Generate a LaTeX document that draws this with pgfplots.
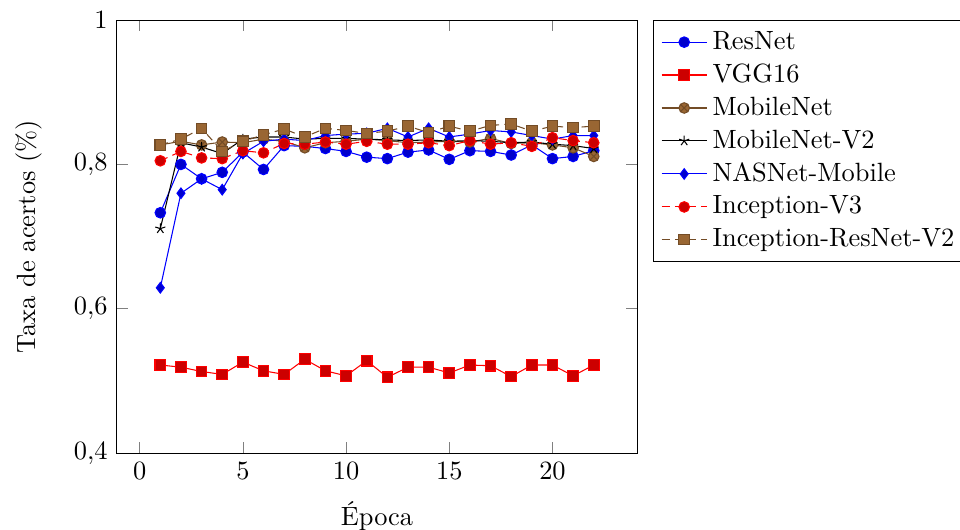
\documentclass[border=0pt]{standalone}
\usepackage{pgfplots}
\pgfplotsset{compat=1.18}
\begin{document}
\begin{tikzpicture}
\begin{axis}[
  scale only axis,
  width=197pt, height=164pt,
  xmin=-1.1, xmax=24.1,
  ymin=0.4, ymax=1,
  xtick={0,5,10,15,20},
  ytick={0.4,0.6,0.8,1},
  /pgf/number format/use comma,
  xlabel={Época},
  ylabel={Taxa de acertos (\%)},
  ylabel style={yshift=5pt},
  xlabel style={yshift=-1.5pt},
  legend pos=outer north east,
  legend cell align=left,
]
\addplot coordinates {(1,0.733)(2,0.800)(3,0.780)(4,0.789)(5,0.817)(6,0.793)(7,0.826)(8,0.825)(9,0.822)(10,0.818)(11,0.810)(12,0.808)(13,0.817)(14,0.820)(15,0.807)(16,0.819)(17,0.818)(18,0.813)(19,0.827)(20,0.808)(21,0.811)(22,0.819)};
\addlegendentry{ResNet}
\addplot coordinates {(1,0.522)(2,0.519)(3,0.513)(4,0.509)(5,0.526)(6,0.514)(7,0.509)(8,0.530)(9,0.514)(10,0.507)(11,0.528)(12,0.505)(13,0.519)(14,0.519)(15,0.511)(16,0.522)(17,0.521)(18,0.506)(19,0.522)(20,0.522)(21,0.507)(22,0.522)};
\addlegendentry{VGG16}
\addplot coordinates {(1,0.827)(2,0.832)(3,0.827)(4,0.831)(5,0.830)(6,0.835)(7,0.832)(8,0.823)(9,0.830)(10,0.832)(11,0.835)(12,0.833)(13,0.830)(14,0.831)(15,0.832)(16,0.831)(17,0.836)(18,0.829)(19,0.830)(20,0.827)(21,0.823)(22,0.811)};
\addlegendentry{MobileNet}
\addplot coordinates {(1,0.711)(2,0.830)(3,0.824)(4,0.815)(5,0.835)(6,0.838)(7,0.838)(8,0.835)(9,0.836)(10,0.836)(11,0.835)(12,0.834)(13,0.833)(14,0.834)(15,0.832)(16,0.833)(17,0.832)(18,0.830)(19,0.831)(20,0.828)(21,0.826)(22,0.822)};
\addlegendentry{MobileNet-V2}
\addplot coordinates {(1,0.629)(2,0.760)(3,0.780)(4,0.765)(5,0.815)(6,0.832)(7,0.835)(8,0.833)(9,0.840)(10,0.842)(11,0.843)(12,0.850)(13,0.838)(14,0.850)(15,0.838)(16,0.842)(17,0.847)(18,0.845)(19,0.840)(20,0.835)(21,0.840)(22,0.840)};
\addlegendentry{NASNet-Mobile}
\addplot coordinates {(1,0.805)(2,0.818)(3,0.809)(4,0.808)(5,0.819)(6,0.816)(7,0.829)(8,0.828)(9,0.831)(10,0.828)(11,0.832)(12,0.828)(13,0.828)(14,0.830)(15,0.826)(16,0.833)(17,0.828)(18,0.830)(19,0.825)(20,0.837)(21,0.833)(22,0.830)};
\addlegendentry{Inception-V3}
\addplot coordinates {(1,0.827)(2,0.835)(3,0.850)(4,0.818)(5,0.832)(6,0.841)(7,0.849)(8,0.838)(9,0.850)(10,0.847)(11,0.843)(12,0.846)(13,0.853)(14,0.844)(15,0.853)(16,0.846)(17,0.854)(18,0.856)(19,0.846)(20,0.853)(21,0.851)(22,0.853)};
\addlegendentry{Inception-ResNet-V2}
\coordinate (sw) at (rel axis cs:0,0);
\coordinate (ne) at (rel axis cs:1,1);
\end{axis}
\pgfresetboundingbox
\path[use as bounding box] ([shift={(-44.3pt,-28.8pt)}]sw) rectangle ([shift={(122.3pt,7.6pt)}]ne);
\end{tikzpicture}
\end{document}
